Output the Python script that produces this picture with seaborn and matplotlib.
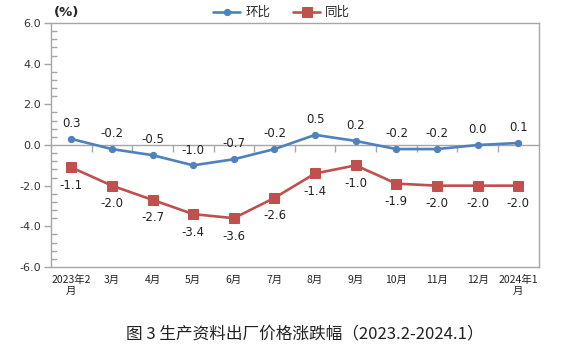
import pandas as pd
import matplotlib
matplotlib.use("Agg")
import matplotlib.pyplot as plt
import seaborn as sns

# month labels and the two series (%)
months = ["2023年2\n月", "3月", "4月", "5月", "6月", "7月", "8月", "9月",
          "10月", "11月", "12月", "2024年1\n月"]
mom = [0.3, -0.2, -0.5, -1.0, -0.7, -0.2, 0.5, 0.2, -0.2, -0.2, 0.0, 0.1]
yoy = [-1.1, -2.0, -2.7, -3.4, -3.6, -2.6, -1.4, -1.0, -1.9, -2.0, -2.0, -2.0]

sns.set_style("white")
plt.rcParams['font.family'] = ['Noto Sans CJK SC', 'DejaVu Sans']

df = pd.DataFrame({"idx": range(len(months)), "环比": mom, "同比": yoy})

blue = "#4F81BD"
red = "#C0504D"
gray = "#A6A6A6"

fig = plt.figure(figsize=(5.69, 3.55), dpi=100)
ax = fig.add_axes([0.0896, 0.248, 0.857, 0.687])

sns.lineplot(data=df, x="idx", y="环比", ax=ax, color=blue, lw=1.9,
             marker="o", markersize=4.5, markeredgecolor=blue, label="环比")
sns.lineplot(data=df, x="idx", y="同比", ax=ax, color=red, lw=1.9,
             marker="s", markersize=7.5, markeredgecolor=red, label="同比")

# data labels
for i, v in enumerate(mom):
    ax.annotate(f"{v:.1f}", (i, v), xytext=(0, 11), textcoords="offset points",
                ha="center", va="center", fontsize=8.5, color="#222222",
                family="DejaVu Sans")
for i, v in enumerate(yoy):
    ax.annotate(f"{v:.1f}", (i, v), xytext=(0, -13), textcoords="offset points",
                ha="center", va="center", fontsize=8.5, color="#222222",
                family="DejaVu Sans")

ax.set_xlim(-0.5, len(months) - 0.5)
ax.set_ylim(-6, 6)
ax.set_yticks([-6, -4, -2, 0, 2, 4, 6])
ax.set_yticklabels([f"{t:.1f}" for t in [-6, -4, -2, 0, 2, 4, 6]],
                   fontsize=8, family="DejaVu Sans", color="#333333")
ax.set_yticks([-6 + 0.4 * k for k in range(31)], minor=True)
ax.tick_params(axis="y", which="major", left=True, direction="out", length=5,
               width=1, color=gray, pad=2)
ax.tick_params(axis="y", which="minor", left=True, direction="in", length=4,
               width=1, color=gray)
ax.set_xticks(range(len(months)))
ax.set_xticklabels(months, fontsize=7.5, color="#222222", linespacing=1.1)
ax.tick_params(axis="x", length=0, pad=6)
ax.set_xlabel("")
ax.set_ylabel("")
for s in ax.spines.values():
    s.set_color(gray)
    s.set_linewidth(1.0)

# zero axis with boundary ticks pointing down
zero = ax.secondary_xaxis(0.5)
zero.set_xticks([i + 0.5 for i in range(len(months) - 1)])
zero.set_xticklabels([])
zero.tick_params(which="both", bottom=True, top=False, direction="out",
                 length=5, width=1, color=gray)
zero.xaxis.set_tick_params(which="minor", length=0)
for s in zero.spines.values():
    s.set_color(gray)
    s.set_linewidth(1.0)

ax.get_legend().remove()
h, l = ax.get_legend_handles_labels()
fig.legend(h, l, loc="center", bbox_to_anchor=(0.495, 0.965), ncol=2,
           frameon=False, fontsize=9, handlelength=2.2, columnspacing=1.8,
           handletextpad=0.4)

fig.text(0.095, 0.965, "(%)", fontsize=9.5, fontweight="bold",
         ha="left", va="center", family="DejaVu Sans")
fig.text(0.535, 0.06, "图 3 生产资料出厂价格涨跌幅（2023.2-2024.1）",
         fontsize=12, ha="center", va="center", color="#222222")

fig.savefig("out.png", dpi=100)
